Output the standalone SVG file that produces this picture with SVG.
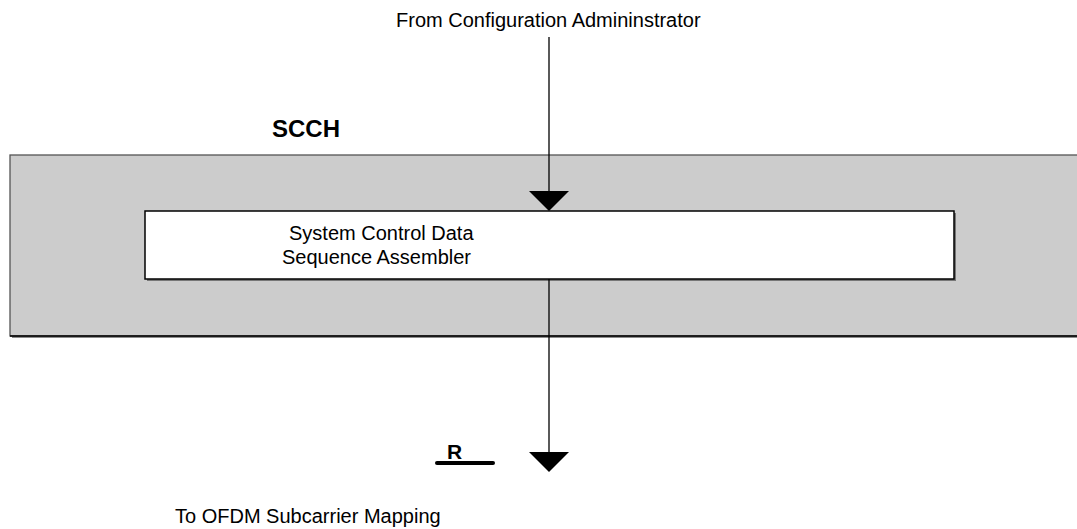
<svg xmlns="http://www.w3.org/2000/svg" width="1077" height="529" viewBox="0 0 1077 529">
  <style>
    .t { font-family: "Liberation Sans", Arial, sans-serif; font-size: 20px; fill: #000; }
    .b { font-family: "Liberation Sans", Arial, sans-serif; font-weight: bold; fill: #000; }
    .line { stroke: #000; stroke-width: 1.3; fill: none; }
    .head { fill: #000; }
  </style>
  <rect width="1077" height="529" fill="#fff"/>
  <g id="scch">
    <rect x="12" y="157" width="1080" height="181" fill="#8c8c8c"/>
    <rect x="10" y="155" width="1080" height="181" fill="#cccccc" stroke="#555" stroke-width="1.3"/>
    <line x1="10" y1="336" x2="1077" y2="336" stroke="#000" stroke-width="1.3"/>
    <text class="b" x="272" y="137" font-size="24">SCCH</text>
  </g>
  <g id="assembler">
    <rect x="147" y="213" width="809" height="68" fill="#777"/>
    <rect x="145" y="211" width="809" height="68" fill="#fff" stroke="#000" stroke-width="1.5"/>
    <text class="t" x="289" y="240">System Control Data</text>
    <text class="t" x="282" y="264">Sequence Assembler</text>
  </g>
  <g id="source">
    <text class="t" x="396" y="27">From Configuration Admininstrator</text>
  </g>
  <g id="sink">
    <text class="t" x="175" y="523">To OFDM Subcarrier Mapping</text>
  </g>
  <g id="r-label">
    <text class="b" x="447" y="459" font-size="21">R</text>
    <line x1="437" y1="463" x2="493" y2="463" stroke="#000" stroke-width="4" stroke-linecap="round"/>
  </g>
  <g id="connectors">
    <line class="line" x1="549" y1="37" x2="549" y2="192"/>
    <polygon class="head" points="529,191 569,191 549,211"/>
    <line class="line" x1="549" y1="279" x2="549" y2="453"/>
    <polygon class="head" points="529,452 569,452 549,472"/>
  </g>
</svg>
